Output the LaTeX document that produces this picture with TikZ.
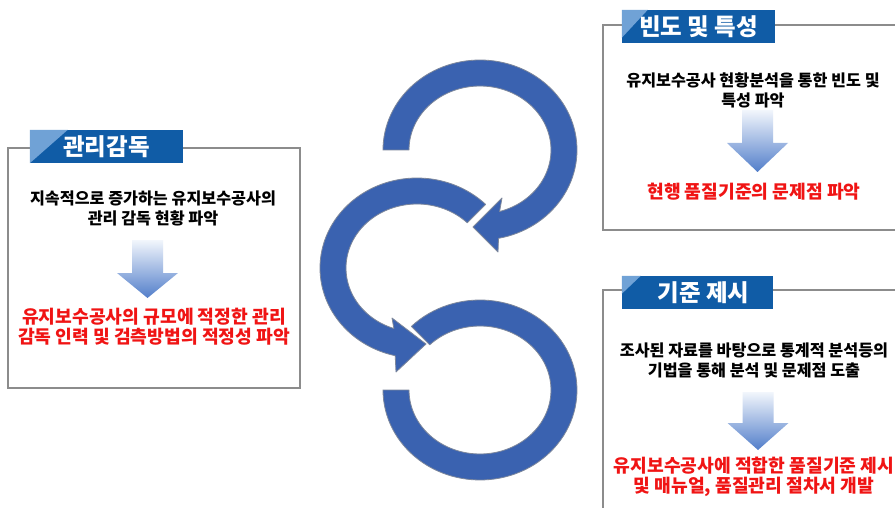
\documentclass[tikz,border=0pt]{standalone}
\usepackage{fontspec}
\usetikzlibrary{calc}
\newfontfamily\kr{Noto Sans CJK KR}
\definecolor{arcblue}{RGB}{58,98,176}
\definecolor{arcedge}{RGB}{125,135,155}
\definecolor{tabblue}{RGB}{16,92,166}
\definecolor{tablight}{RGB}{112,162,214}
\definecolor{boxgray}{RGB}{140,140,140}
\definecolor{txtred}{RGB}{240,20,20}
\definecolor{arrowtop}{RGB}{242,246,252}
\definecolor{arrowbot}{RGB}{82,126,202}
\newcommand{\gradarrow}[4]{%
  \shade[top color=arrowtop, bottom color=arrowbot]
    (#1-15.5,#2) -- (#1+15.5,#2) -- (#1+15.5,#3) -- (#1+30.5,#3) -- (#1,#4)
    -- (#1-30.5,#3) -- (#1-15.5,#3) -- cycle;}
\begin{document}
\begin{tikzpicture}[x=1pt,y=-1pt,
  boxline/.style={draw=boxgray, line width=1.3pt},
  tabbox/.style={fill=tabblue, minimum height=33pt, inner sep=0pt, draw=none},
  tabtext/.style={text=white, font=\kr\bfseries\fontsize{23.5}{26}\selectfont, inner sep=0pt},
  body/.style={font=\kr\bfseries\fontsize{16.2}{20}\selectfont, align=center, inner sep=0pt, text=black},
  redtxt/.style={font=\kr\bfseries\fontsize{18.2}{20}\selectfont, align=center, inner sep=0pt, text=txtred},
  ring/.style={fill=arcblue, draw=arcedge, line width=0.8pt, line join=round}
]
\useasboundingbox (0,0) rectangle (895,508);
\fill[white] (0,0) rectangle (895,508);

% ---- boxes
\draw[boxline] (8,148) rectangle (300,388);
\draw[boxline] (897,25) -- (603,25) -- (603,230) -- (897,230);
\draw[boxline] (897,290) -- (603,290) -- (603,512);

% ---- tabs
\node[tabbox, minimum width=153pt] (t1) at (106.5,146.5) {};
\fill[tablight] (t1.north west) -- ++(38,0) -- (t1.south west) -- cycle;
\node[tabtext] (t1txt) at (t1) {관리감독};

\node[tabbox, minimum width=153pt] (t2) at (698.5,26.5) {};
\fill[tablight] (t2.north west) -- ++(26,0) -- ($(t2.north west)+(0,28)$) -- cycle;
\node[tabtext] (t2txt) at (t2) {빈도 및 특성};

\node[tabbox, minimum width=151pt] (t3) at (697.5,292.5) {};
\fill[tablight] (t3.north west) -- ++(19,0) -- ($(t3.north west)+(0,18)$) -- cycle;
\node[tabtext] (t3txt) at ($(t3)+(6,0)$) {기준 제시};

% ---- left box contents
\node[body] (l1) at (153,208) {지속적으로 증가하는 유지보수공사의\\관리 감독 현황 파악};
\gradarrow{147.5}{240}{273}{298}
\node[redtxt] (l2) at (154,327) {유지보수공사의 규모에 적정한 관리\\감독 인력 및 검측방법의 적정성 파악};

% ---- top right contents
\node[body] (r1) at (753,90) {유지보수공사 현황분석을 통한 빈도 및\\특성 파악};
\gradarrow{757.5}{110}{143}{172}
\node[redtxt] (r2) at (754,192) {현행 품질기준의 문제점 파악};

% ---- bottom right contents
\node[body] (b1) at (754,360) {조사된 자료를 바탕으로 통계적 분석등의\\기법을 통해 분석 및 문제점 도출};
\gradarrow{758}{392}{423}{450}
\node[redtxt] (b2) at (754,477) {유지보수공사에 적합한 품질기준 제시\\및 매뉴얼, 품질관리 절차서 개발};

% ---- central ring arrows
\filldraw[ring] plot[domain=180:439, samples=90] ({480+97*cos(\x)},{150+90*sin(\x)})
  -- (498,252) -- (473,227) -- (502,198)
  -- plot[domain=434:180, samples=90] ({480+71*cos(\x)},{150+64*sin(\x)}) -- cycle;

\filldraw[ring] plot[domain=-45:-257, samples=90] ({417+97*cos(\x)},{268+90*sin(\x)})
  -- (396,372) -- (426,344) -- (392,318)
  -- plot[domain=-251:-45, samples=90] ({417+71*cos(\x)},{268+64*sin(\x)}) -- cycle;

\filldraw[ring] plot[domain=225:540, samples=100] ({480+97*cos(\x)},{390+90*sin(\x)})
  -- plot[domain=540:225, samples=100] ({480+71*cos(\x)},{390+64*sin(\x)}) -- cycle;
\end{tikzpicture}
\end{document}
